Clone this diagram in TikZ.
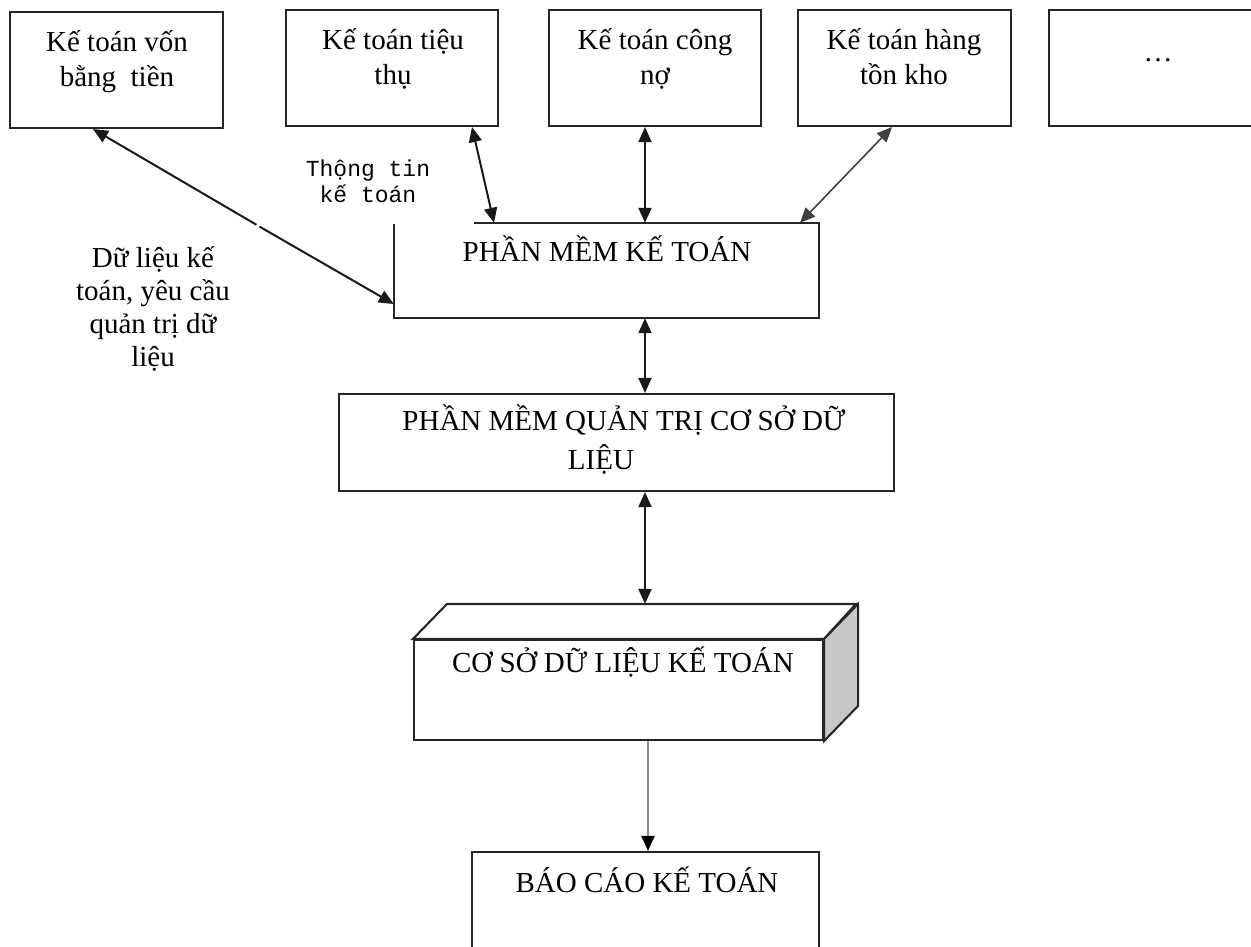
\documentclass[tikz,border=0pt]{standalone}
\usepackage{fontspec}
\setmainfont{Liberation Serif}
\setmonofont{Liberation Mono}
\usetikzlibrary{arrows.meta}
\newcommand{\capstrut}{\rule{0pt}{26pt}}
\begin{document}
\begin{tikzpicture}[x=1pt,y=-1pt,
  box/.style={draw=black!85,line width=2.1pt,inner sep=0pt},
  txt/.style={inner sep=0pt,anchor=north,align=center,
    font=\fontsize{29}{35}\selectfont},
  link/.style={line width=2pt,draw=black!90},
  >={Triangle[length=15pt,width=13pt]}]
\useasboundingbox (0,0) rectangle (1251,946);

% accounting modules along the top
\node[box,minimum width=213pt,minimum height=116pt] (b1) at (116.5,70) {};
\node[box,minimum width=212pt,minimum height=116pt] (b2) at (392,68) {};
\node[box,minimum width=212pt,minimum height=116pt] (b3) at (655,68) {};
\node[box,minimum width=213pt,minimum height=116pt] (b4) at (904.5,68) {};
\node[box,minimum width=221pt,minimum height=116pt] (b5) at (1159.5,68) {};

\node[txt] (t1) at (117,25) {\capstrut Kế toán vốn\\bằng\ \ tiền};
\node[txt] (t2) at (393,23) {\capstrut Kế toán tiệu\\thụ};
\node[txt] (t3) at (655,23) {\capstrut Kế toán công\\nợ};
\node[txt] (t4) at (904,23) {\capstrut Kế toán hàng\\tồn kho};
\node[txt] (t5) at (1158,35) {\capstrut …};

% accounting software (its top-left corner is left open)
\node[minimum width=425pt,minimum height=95pt,inner sep=0pt] (pmkt) at (606.5,270.5) {};
\draw[box] ([xshift=80pt]pmkt.north west) -- (pmkt.north east)
  -- (pmkt.south east) -- (pmkt.south west) -- ([yshift=-1pt]pmkt.north west);
\node[txt] (tpmkt) at (607,235) {\capstrut PHẦN MỀM KẾ TOÁN};

% database management software
\node[box,minimum width=555pt,minimum height=97pt] (pmqt) at (616.5,442.5) {};
\node[txt,font=\fontsize{29}{39}\selectfont] (tpmqt) at (624,404)
  {\capstrut PHẦN MỀM QUẢN TRỊ CƠ SỞ DỮ\\LIỆU\hspace*{46pt}};

% accounting database drawn as a block
\node[box,minimum width=409pt,minimum height=100pt] (csdl) at (618.5,690) {};
\draw[box,fill=white] (csdl.north west) -- ++(34,-35) -- ++(409,0)
  -- (csdl.north east) -- cycle;
\draw[box,fill=black!22] (csdl.north east) -- ++(34,-35) -- ++(0,102)
  -- (csdl.south east) -- cycle;
\node[txt] (tcsdl) at (623,646) {\capstrut CƠ SỞ DỮ LIỆU KẾ TOÁN};

% accounting reports
\node[box,minimum width=347pt,minimum height=106pt] (bckt) at (645.5,905) {};
\node[txt] (tbckt) at (647,866) {\capstrut BÁO CÁO KẾ TOÁN};

% side labels
\node[txt,font=\fontsize{29}{33}\selectfont] (lbl1) at (153,241)
  {\capstrut Dữ liệu kế\\toán, yêu cầu\\quản trị dữ\\liệu};
\node[txt,font=\ttfamily\fontsize{23}{26}\selectfont] (lbl2) at (368,150)
  {\capstrut Thộng tin\\kế toán};

% data flows
\coordinate (g1) at (256.5,224.8);
\coordinate (g2) at (259.5,226.6);
\draw[link,<-] ([xshift=-23.5pt]b1.south) -- (g1);
\draw[link,->] (g2) -- ([yshift=-33.5pt]pmkt.west);
\draw[link,<->] ([xshift=80pt]b2.south) -- ([xshift=-112.5pt]pmkt.north);
\draw[link,<->] ([xshift=-10pt]b3.south) -- ([xshift=38.5pt]pmkt.north);
\draw[link,<->,line width=1.6pt,draw=black!75] ([xshift=-12.5pt]b4.south) -- ([xshift=193.5pt]pmkt.north);
\draw[link,<->] ([xshift=38.5pt]pmkt.south) -- ([xshift=28.5pt]pmqt.north);
\draw[link,<->] ([xshift=28.5pt]pmqt.south) -- ([xshift=26.5pt,yshift=35pt]csdl.north);
\draw[line width=2pt,draw=black!45,-{Triangle[length=15pt,width=13pt,color=black]}]
  ([xshift=29.5pt]csdl.south) -- ([xshift=2.5pt]bckt.north);
\end{tikzpicture}
\end{document}
